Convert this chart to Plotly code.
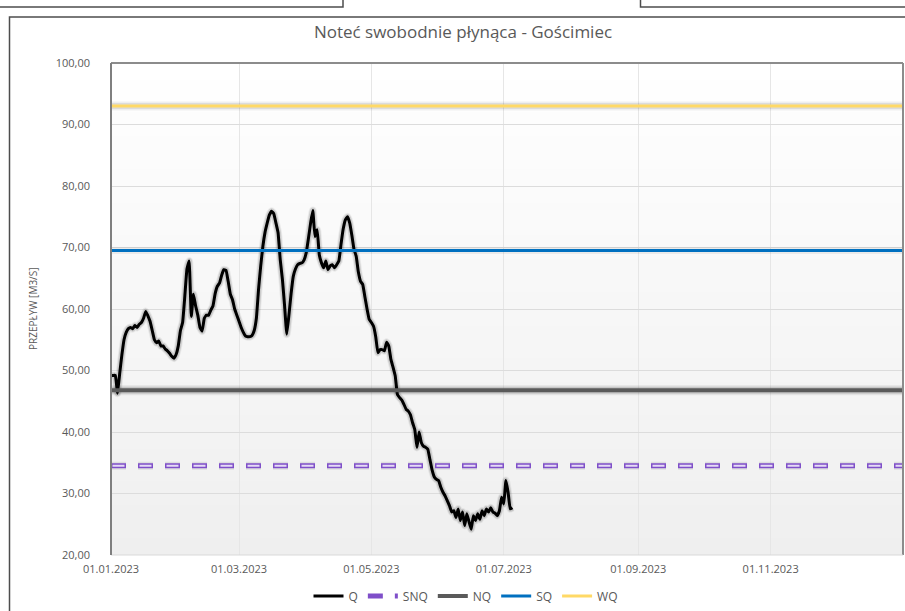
import plotly.graph_objects as go
import pandas as pd

# ---------------- data ----------------
start_date = "2023-01-01"
q_values = [
    49.2, 49.2, 49.2, 46.3, 49.5, 52.5, 55.0, 56.2, 56.8, 57.0,
    56.8, 57.3, 57.0, 57.5, 57.8, 58.5, 59.6, 58.9, 58.0, 56.5,
    55.0, 54.5, 54.8, 54.0, 54.0, 53.5, 53.2, 52.8, 52.3, 52.0,
    52.6, 54.0, 56.5, 57.8, 62.0, 66.5, 67.8, 58.8, 62.4, 60.5,
    59.0, 57.0, 56.4, 58.5, 59.0, 59.0, 59.8, 60.5, 62.5, 63.7,
    64.2, 65.5, 66.4, 66.3, 64.5, 62.4, 61.5, 60.0, 59.0, 58.0,
    57.0, 56.2, 55.6, 55.5, 55.5, 55.7, 56.5, 58.5, 63.2, 67.0,
    70.2, 72.5, 74.0, 75.3, 75.9, 75.5, 74.0, 72.4, 68.0, 64.8,
    60.5, 55.9, 59.0, 62.5, 65.3, 66.5, 67.2, 67.4, 67.5, 68.0,
    69.2, 71.5, 74.0, 76.0, 71.8, 72.9, 68.8, 67.5, 66.7, 67.8,
    66.4, 67.0, 67.2, 66.7, 67.2, 67.8, 70.5, 73.0, 74.5, 75.0,
    74.0, 72.0, 69.7, 68.6, 66.0, 64.5, 64.0, 62.0, 60.0, 58.3,
    57.8, 57.2, 55.5, 52.9, 53.4, 53.4, 53.2, 54.6, 54.0, 51.8,
    50.5, 49.1, 46.1, 45.6, 45.2, 44.5, 43.7, 43.4, 42.8, 41.5,
    40.4, 37.5, 40.0, 38.3, 37.7, 37.5, 37.2, 35.5, 33.8, 32.7,
    32.3, 32.1, 31.0, 30.2, 29.6, 28.8, 28.0, 27.0, 27.2, 26.1,
    27.5, 25.6, 27.0, 24.8, 26.7, 25.4, 24.2, 26.4, 25.6, 26.7,
    25.8, 27.2, 26.4, 27.5, 27.0, 27.7, 27.0, 26.8, 26.4, 27.2,
    29.4, 28.3, 32.1, 30.2, 27.5, 27.7,
]
q_dates = pd.date_range(start_date, periods=len(q_values), freq="D")

line_span = ["2023-01-01", "2024-01-01"]   # horizontal reference lines span the year
SNQ = 34.5
NQ = 46.8
SQ = 69.5
WQ = 93.0

tick_dates = ["2023-01-01", "2023-03-01", "2023-05-01", "2023-07-01", "2023-09-01", "2023-11-01"]
tick_text = ["01.01.2023", "01.03.2023", "01.05.2023", "01.07.2023", "01.09.2023", "01.11.2023"]

title_text = "Noteć swobodnie płynąca - Gościmiec"
y_title = "PRZEPŁYW [M3/S]"

# ---------------- layout geometry ----------------
FW, FH = 905, 611
ML, MR, MT, MB = 111, 2, 63, 55
PW = FW - ML - MR
PH = FH - MT - MB


def px_x(px):
    return (px - ML) / PW


def px_y(py):
    return (FH - MB - py) / PH


FONT = "Open Sans"
GREY_TXT = "#595959"

fig = go.Figure()


def hline(name, value, color, width, dash=None, glow=None, showlegend=True):
    if glow:
        for gw, ga in glow:
            fig.add_trace(go.Scatter(
                x=line_span, y=[value, value], mode="lines",
                line=dict(color=f"rgba(0,0,0,{ga})", width=gw),
                hoverinfo="skip", showlegend=False))
    fig.add_trace(go.Scatter(
        x=line_span, y=[value, value], mode="lines", name=name,
        line=dict(color=color, width=width, dash=dash),
        showlegend=showlegend))


# Q line with soft shadow
for gw, ga in [(8, 0.06), (6, 0.12)]:
    fig.add_trace(go.Scatter(x=q_dates, y=q_values, mode="lines",
                             line=dict(color=f"rgba(0,0,0,{ga})", width=gw, shape="spline", smoothing=0.3),
                             hoverinfo="skip", showlegend=False))
fig.add_trace(go.Scatter(x=q_dates, y=q_values, mode="lines", name="Q",
                         line=dict(color="#000000", width=3, shape="spline", smoothing=0.3)))

# SNQ hollow dashed line (outer purple + inner lavender)
fig.add_trace(go.Scatter(x=line_span, y=[SNQ, SNQ], mode="lines",
                         line=dict(color="rgba(0,0,0,0.08)", width=8, dash="15px,12px"),
                         hoverinfo="skip", showlegend=False))
fig.add_trace(go.Scatter(x=line_span, y=[SNQ, SNQ], mode="lines", name="SNQ",
                         line=dict(color="#7F4FC9", width=5, dash="15px,12px")))
fig.add_trace(go.Scatter(x=line_span, y=[SNQ, SNQ], mode="lines",
                         line=dict(color="#E6DCF6", width=2, dash="0px,1.5px,12px,13.5px"),
                         hoverinfo="skip", showlegend=False))

hline("NQ", NQ, "#5A5A5A", 4, glow=[(10, 0.07), (7, 0.12)])
hline("SQ", SQ, "#0070C0", 3, glow=[(7, 0.06)])
hline("WQ", WQ, "#FFD966", 3, glow=[(9, 0.06), (6, 0.08)])

# ---------------- shapes ----------------
shapes = []
n_bands = 60
for i in range(n_bands):
    f = (i + 0.5) / n_bands          # 0 bottom -> 1 top
    c = int(round(239 + (255 - 239) * f))
    shapes.append(dict(type="rect", xref="paper", yref="paper",
                       x0=0, x1=1, y0=i / n_bands, y1=(i + 1) / n_bands + 0.002,
                       fillcolor=f"rgb({c},{c},{c})", line=dict(width=0), layer="below"))

# plot-area frame
shapes += [
    dict(type="line", xref="paper", yref="paper", x0=0, x1=1, y0=1, y1=1,
         line=dict(color="#8C8C8C", width=2)),
    dict(type="line", xref="paper", yref="paper", x0=1, x1=1, y0=0, y1=1,
         line=dict(color="#8C8C8C", width=2)),
    dict(type="line", xref="paper", yref="paper", x0=0, x1=1, y0=0, y1=0,
         line=dict(color="#D9D9D9", width=1)),
    dict(type="line", xref="paper", yref="paper", x0=0, x1=0, y0=0, y1=1,
         line=dict(color="#7F7F7F", width=2)),
]

# outer chart border and neighbouring cell borders
shapes += [
    dict(type="path", xref="paper", yref="paper",
         path=f"M {px_x(9.5)} {px_y(612)} L {px_x(9.5)} {px_y(17)} L {px_x(906)} {px_y(17)}",
         line=dict(color="#4D4D4D", width=1.5)),
    dict(type="path", xref="paper", yref="paper",
         path=f"M {px_x(-1)} {px_y(7)} L {px_x(343)} {px_y(7)} L {px_x(343)} {px_y(-1)}",
         line=dict(color="#4D4D4D", width=1.5)),
    dict(type="path", xref="paper", yref="paper",
         path=f"M {px_x(906)} {px_y(7)} L {px_x(640.5)} {px_y(7)} L {px_x(640.5)} {px_y(-1)}",
         line=dict(color="#4D4D4D", width=1.5)),
]

fig.update_layout(
    width=FW, height=FH,
    margin=dict(l=ML, r=MR, t=MT, b=MB, pad=0),
    paper_bgcolor="white",
    plot_bgcolor="rgba(0,0,0,0)",
    separators=", ",
    font=dict(family=FONT, color=GREY_TXT, size=11),
    title=dict(text=title_text, x=463 / FW, xref="container", xanchor="center",
               y=1 - 32 / FH, yref="container", yanchor="middle",
               font=dict(family=FONT, size=17, color=GREY_TXT)),
    showlegend=True,
    legend=dict(orientation="h", x=px_x(466), y=px_y(596), xanchor="center", yanchor="middle",
                font=dict(family=FONT, size=12, color=GREY_TXT),
                bgcolor="rgba(0,0,0,0)", itemwidth=30, tracegroupgap=0,
                traceorder="normal"),
    shapes=shapes,
    annotations=[dict(text=y_title, xref="paper", yref="paper", x=px_x(33), y=0.5,
                      xanchor="center", yanchor="middle", textangle=-90, showarrow=False,
                      font=dict(family=FONT, size=10, color=GREY_TXT))],
)

fig.update_xaxes(
    type="date", range=line_span,
    tickvals=tick_dates, ticktext=tick_text,
    showgrid=True, gridcolor="#E6E6E6", gridwidth=1,
    showline=False, zeroline=False, ticks="", ticklabelstandoff=6,
    tickfont=dict(family=FONT, size=11, color=GREY_TXT),
)
fig.update_yaxes(
    range=[20, 100], dtick=10, tick0=20, tickformat=".2f",
    showgrid=True, gridcolor="#DCDCDC", gridwidth=1,
    showline=False, zeroline=False, ticks="", ticklabelstandoff=20,
    tickfont=dict(family=FONT, size=11, color=GREY_TXT),
)

fig.write_html("out.html", config={"displayModeBar": False},
               post_script="document.body.style.margin='0px';document.body.style.overflow='hidden';")
